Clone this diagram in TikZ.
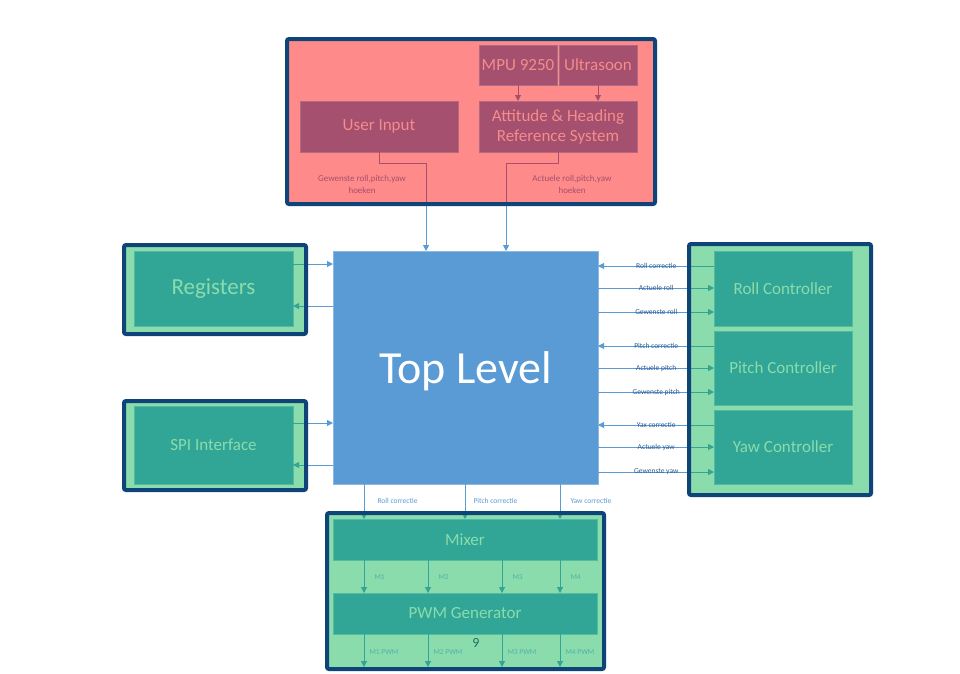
\documentclass[tikz,border=0pt]{standalone}
\usepackage{fontspec}
\setmainfont{Carlito}
\usetikzlibrary{arrows.meta}
\definecolor{redbg}{HTML}{FF8A8A}
\definecolor{maroonbox}{HTML}{A4506E}
\definecolor{pinktext}{HTML}{F58C8C}
\definecolor{navyframe}{HTML}{0F4478}
\definecolor{greenbg}{HTML}{8ADCAC}
\definecolor{tealbox}{HTML}{31A596}
\definecolor{blueblk}{HTML}{5B9BD5}
\definecolor{darklab}{HTML}{2A5C95}
\definecolor{ninecol}{HTML}{1B6E68}
\begin{document}
\begin{tikzpicture}[x=1pt,y=-1pt,
  frame/.style={draw=navyframe,line width=4pt,rounded corners=2pt},
  grpbox/.style={line width=4pt,inner sep=0pt,outer sep=0pt,anchor=north west},
  mbox/.style={fill=maroonbox,draw=maroonbox!85!white,line width=0.6pt,text=pinktext,
    font=\fontsize{17}{20}\selectfont,inner sep=0pt,outer sep=0pt,anchor=north west,align=center},
  tbox/.style={fill=tealbox,draw=tealbox!60!greenbg,line width=0.8pt,text=greenbg,
    font=\fontsize{17}{20}\selectfont,inner sep=0pt,outer sep=0pt,anchor=north west,align=center},
  bline/.style={draw=blueblk,line width=1pt},
  tline/.style={draw=tealbox,line width=1pt},
  mline/.style={draw=maroonbox,line width=1pt},
  arrowed/.style={-{Triangle[length=6pt,width=6pt]}},
  rlab/.style={font=\fontsize{7.5}{9}\selectfont,text=darklab,inner sep=0pt},
  blab/.style={font=\fontsize{7.5}{9}\selectfont,text=blueblk,inner sep=0pt,anchor=west},
  glab/.style={font=\fontsize{7.5}{9}\selectfont,text=tealbox!85!white,inner sep=0pt,anchor=west},
  mlab/.style={font=\fontsize{9}{12}\selectfont,text=maroonbox,inner sep=0pt,align=center}]
\useasboundingbox (0,0) rectangle (960,673);
\fill[white] (0,0) rectangle (960,673);

% groups
\node[grpbox,fill=redbg,minimum width=368,minimum height=165] (top) at (287,39) {};
\node[grpbox,fill=greenbg,minimum width=182,minimum height=89] (rgG) at (124,245) {};
\node[grpbox,fill=greenbg,minimum width=182,minimum height=89] (spiG) at (124,401) {};
\node[grpbox,fill=greenbg,minimum width=182,minimum height=251] (ctlG) at (689,244) {};
\node[grpbox,fill=greenbg,minimum width=277,minimum height=156] (mixG) at (327,513) {};

% top group boxes
\node[mbox,minimum width=78,minimum height=40] (mpu) at (479,45) {MPU 9250};
\node[mbox,minimum width=78,minimum height=40] (us) at (559,45) {Ultrasoon};
\node[mbox,minimum width=158,minimum height=51] (ahrs) at (479,101) {Attitude \& Heading\\Reference System};
\node[mbox,minimum width=158,minimum height=51] (ui) at (300,101) {User Input};

% top level
\node[fill=blueblk,draw=blueblk!70!white,line width=0.7pt,inner sep=0pt,outer sep=0pt,
  minimum width=265,minimum height=233,anchor=north west,text=white,text depth=0pt,
  font=\fontsize{46}{52}\selectfont] (tl) at (333,251) {Top Level};

% left boxes
\node[tbox,minimum width=159,minimum height=75,font=\fontsize{23}{26}\selectfont] (reg) at (134,251) {Registers};
\node[tbox,minimum width=159,minimum height=78] (spi) at (134,406) {SPI Interface};

% right boxes
\node[tbox,minimum width=138,minimum height=75] (roll) at (714,251) {Roll Controller};
\node[tbox,minimum width=138,minimum height=74] (pitch) at (714,331) {Pitch Controller};
\node[tbox,minimum width=138,minimum height=74] (yaw) at (714,410) {Yaw Controller};

% bottom boxes
\node[tbox,minimum width=264,minimum height=41] (mix) at (333,519) {Mixer};
\node[tbox,minimum width=264,minimum height=41] (pwm) at (333,593) {PWM Generator};
\node[font=\fontsize{14}{16}\selectfont,text=ninecol,inner sep=0pt] (nine) at (476,643) {9};

% top connectors
\draw[mline,arrowed] (mpu.south) -- (mpu.south |- ahrs.north);
\draw[mline,arrowed] (us.south) -- (us.south |- ahrs.north);
\coordinate (ua) at (426,163);
\coordinate (aa) at (506,163);
\draw[mline] (ui.south) |- (ua) -- (ua |- top.south);
\draw[bline,arrowed] (ua |- top.south) -- (ua |- tl.north);
\draw[mline] (ahrs.south) |- (aa) -- (aa |- top.south);
\draw[bline,arrowed] (aa |- top.south) -- (aa |- tl.north);
\node[mlab] (labu) at (362,184) {Gewenste roll,pitch,yaw\\hoeken};
\node[mlab] (laba) at (572,184) {Actuele roll,pitch,yaw\\hoeken};

% left connectors
\draw[tline] (reg.east |- 0,264) -- (rgG.east |- 0,264);
\draw[bline,arrowed] (rgG.east |- 0,264) -- (tl.west |- 0,264);
\draw[bline] (tl.west |- 0,306) -- (rgG.east |- 0,306);
\draw[tline,arrowed] (rgG.east |- 0,306) -- (reg.east |- 0,306);
\draw[tline] (spi.east |- 0,423) -- (spiG.east |- 0,423);
\draw[bline,arrowed] (spiG.east |- 0,423) -- (tl.west |- 0,423);
\draw[bline] (tl.west |- 0,465) -- (spiG.east |- 0,465);
\draw[tline,arrowed] (spiG.east |- 0,465) -- (spi.east |- 0,465);

% right connectors
\foreach \yy/\nm/\txt in {266/roll/Roll correctie,346/pitch/Pitch correctie,425/yaw/Yax correctie}{
  \draw[tline] (\nm.west |- 0,\yy) -- (ctlG.west |- 0,\yy);
  \draw[bline,arrowed] (ctlG.west |- 0,\yy) -- node[rlab,pos=0.36] {\txt} (tl.east |- 0,\yy);
}
\foreach \yy/\nm/\txt in {288/roll/Actuele roll,312/roll/Gewenste roll,368/pitch/Actuele pitch,392/pitch/Gewenste pitch,447/yaw/Actuele yaw,472/yaw/Gewenste yaw}{
  \draw[bline] (tl.east |- 0,\yy) -- node[rlab,pos=0.64] {\txt} (ctlG.west |- 0,\yy);
  \draw[tline,arrowed] (ctlG.west |- 0,\yy) -- (\nm.west |- 0,\yy);
}

% bottom connectors
\foreach \xx/\off/\txt in {364/13/Roll correctie,465/8/Pitch correctie,560/10/Yaw correctie}{
  \draw[bline] (tl.south -| \xx,0) -- node[blab,pos=0.59,xshift=\off] {\txt} (mixG.north -| \xx,0);
  \draw[tline,arrowed] (mixG.north -| \xx,0) -- (mix.north -| \xx,0);
}
\foreach \xx/\m in {364/1,428/2,502/3,560/4}{
  \draw[tline,arrowed] (mix.south -| \xx,0) -- node[glab,pos=0.52,xshift=10] {M\m} (pwm.north -| \xx,0);
  \coordinate (o\m) at (\xx,667);
  \draw[tline,arrowed] (pwm.south -| \xx,0) -- node[glab,pos=0.545,xshift=5] {M\m{} PWM} (o\m);
}

% frames on top
\foreach \g in {top,rgG,spiG,ctlG,mixG}{
  \draw[frame] (\g.north west) rectangle (\g.south east);
}
\end{tikzpicture}
\end{document}
